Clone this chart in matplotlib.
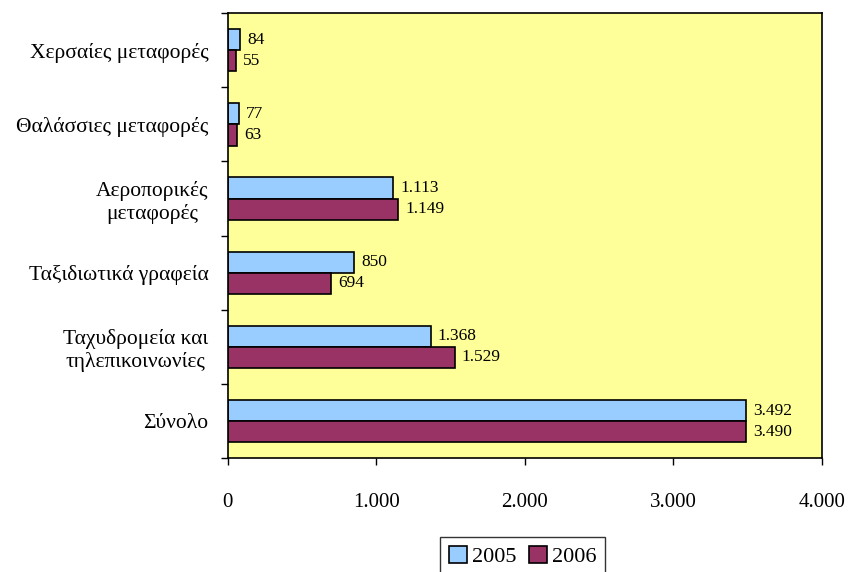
import numpy as np
import matplotlib.pyplot as plt
from matplotlib.ticker import FuncFormatter, FixedLocator

plt.rcParams['font.family'] = ['Liberation Serif', 'DejaVu Serif']

categories = ['Χερσαίες μεταφορές', 'Θαλάσσιες μεταφορές', 'Αεροπορικές\nμεταφορές',
              'Ταξιδιωτικά γραφεία', 'Ταχυδρομεία και\nτηλεπικοινωνίες', 'Σύνολο']
vals_2005 = [84, 77, 1113, 850, 1368, 3492]
vals_2006 = [55, 63, 1149, 694, 1529, 3490]
years = ['2005', '2006']
colors = ['#99CCFF', '#993366']


def dot_fmt(v, pos=None):
    return '{:,.0f}'.format(v).replace(',', '.')


fig = plt.figure(figsize=(8.5, 5.72), dpi=100)
ax = fig.add_axes([0.268, 0.199, 0.699, 0.778])
ax.set_facecolor('#FFFF99')

n = len(categories)
y = np.arange(n)[::-1]  # top category first
h = 0.285
b1 = ax.barh(y + h / 2, vals_2005, height=h, color=colors[0], edgecolor='black', linewidth=1.2, label=years[0])
b2 = ax.barh(y - h / 2, vals_2006, height=h, color=colors[1], edgecolor='black', linewidth=1.2, label=years[1])

for bars in (b1, b2):
    for r in bars:
        ax.annotate(dot_fmt(r.get_width()), (r.get_width(), r.get_y() + r.get_height() / 2),
                    xytext=(5, 0), textcoords='offset points', va='center', ha='left', fontsize=12.5)

ax.set_xlim(0, 4000)
ax.set_ylim(-0.5, n - 0.5)
ax.set_xticks([0, 1000, 2000, 3000, 4000])
ax.xaxis.set_major_formatter(FuncFormatter(dot_fmt))
ax.tick_params(axis='x', direction='out', length=5, width=1, pad=20, labelsize=15)

ax.set_yticks(y)
ax.set_yticklabels(categories, multialignment='center')
ax.yaxis.set_minor_locator(FixedLocator(np.arange(n + 1) - 0.5))
ax.tick_params(axis='y', which='major', length=0, pad=14, labelsize=15.5)
ax.tick_params(axis='y', which='minor', direction='out', length=5, width=1)

for s in ax.spines.values():
    s.set_linewidth(1.2)

leg = fig.legend(loc='lower center', bbox_to_anchor=(0.615, -0.027), ncol=2, fontsize=16,
                 frameon=True, fancybox=False, edgecolor='black', handlelength=0.8, handleheight=0.8,
                 handletextpad=0.2, columnspacing=0.6, borderpad=0.4)
leg.get_frame().set_linewidth(1)

fig.savefig('out.png', dpi=100)
